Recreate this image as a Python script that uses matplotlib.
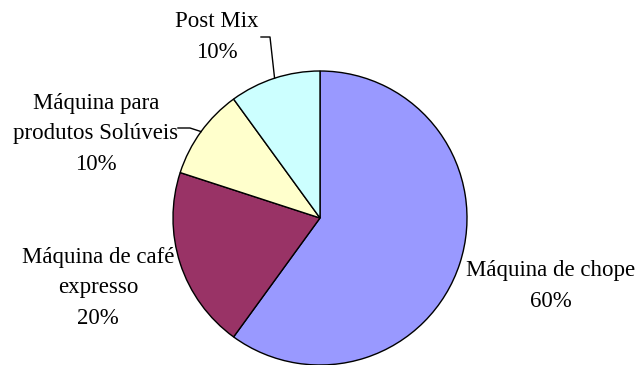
import matplotlib
matplotlib.use("Agg")
import matplotlib.pyplot as plt
import numpy as np

# Data
labels = ["Máquina de chope", "Máquina de café\nexpresso",
          "Máquina para\nprodutos Solúveis", "Post Mix"]
shares = [60, 20, 10, 10]
colors = ["#9999FF", "#993366", "#FFFFCC", "#CCFFFF"]

W, H = 641, 365
fig = plt.figure(figsize=(W / 100, H / 100), dpi=100)
ax = fig.add_axes([0, 0, 1, 1])

cx, cy, r = 320, H - 218, 147

wedges, _ = ax.pie(
    shares,
    colors=colors,
    startangle=90,
    counterclock=False,
    center=(cx, cy),
    radius=r,
    wedgeprops=dict(edgecolor="black", linewidth=1),
)
ax.set_xlim(0, W)
ax.set_ylim(0, H)
ax.set_aspect("equal")
ax.axis("off")

# label block centres (pixel coords, y from top) and optional leader elbows
label_pos = [(551, 286), (98, 288), (96, 134), (217, 37)]
leaders = [None, None, ((178, 128), (190, 128)), ((261, 37), (270, 37))]

for w, lab, s, (lx, ly), ld in zip(wedges, labels, shares, label_pos, leaders):
    ax.text(lx, H - ly, f"{lab}\n{s}%", ha="center", va="center",
            multialignment="center", fontsize=16.5, family="Liberation Serif",
            linespacing=1.62, color="black")
    if ld is not None:
        mid = np.deg2rad((w.theta1 + w.theta2) / 2)
        ex, ey = cx + r * np.cos(mid), cy + r * np.sin(mid)
        xs = [ld[0][0], ld[1][0], ex]
        ys = [H - ld[0][1], H - ld[1][1], ey]
        ax.plot(xs, ys, color="black", linewidth=1)

plt.savefig("out.png", dpi=100)
